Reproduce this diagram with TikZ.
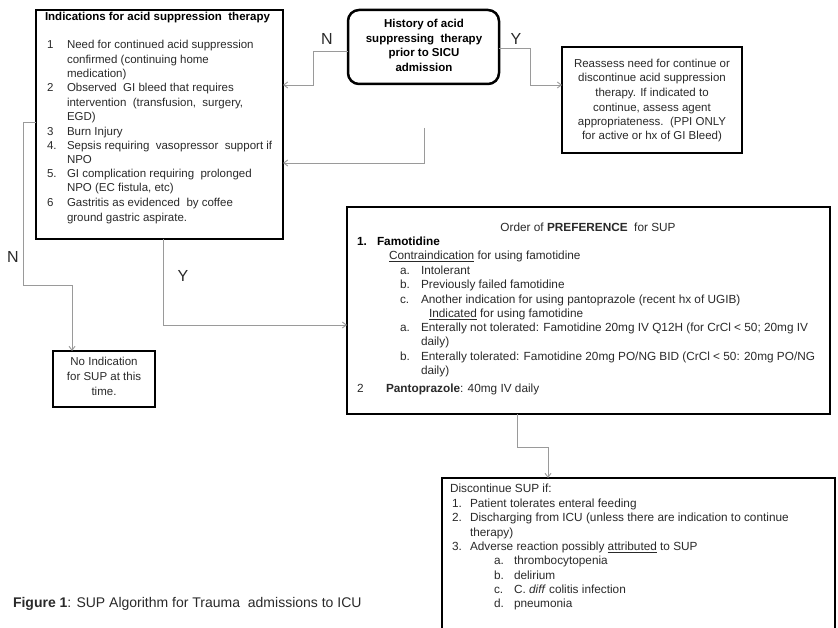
\documentclass[tikz,border=0pt]{standalone}
\usepackage{fontspec}
\setmainfont{Liberation Sans}
\usetikzlibrary{arrows.meta}
\newcounter{tln}
\newcommand\tl[4][]{\stepcounter{tln}\node[txt,anchor=mid west,#1] (t\arabic{tln}) at (#2,-#3) {#4};}
\newcommand\tc[4][]{\stepcounter{tln}\node[txt,anchor=mid,#1] (t\arabic{tln}) at (#2,-#3) {#4};}
\definecolor{txtc}{HTML}{2A2A2A}
\definecolor{connc}{HTML}{9A9A9A}
\tikzset{
  box/.style={draw=black, line width=2.5pt, outer sep=0pt, inner sep=0pt, anchor=north west},
  txt/.style={inner sep=0pt, outer sep=0pt, text=txtc, font=\fontsize{11.5}{14}\selectfont},
  small/.style={font=\fontsize{11.8}{14}\selectfont},
  bold/.style={font=\fontsize{11.5}{14}\selectfont\bfseries, text=black},
  bolds/.style={font=\fontsize{11.8}{14}\selectfont\bfseries, text=black},
  lab/.style={inner sep=0pt, text=txtc, font=\fontsize{16}{18}\selectfont},
  conn/.style={draw=connc, line width=0.9pt, -{Straight Barb[length=4pt,width=6pt]}},
}
\begin{document}
\begin{tikzpicture}[x=1pt,y=1pt]
\clip (0,0) rectangle (838,-628);
\fill[white] (0,0) rectangle (838,-628);

% boxes
\node[box, minimum width=247pt, minimum height=229pt] (ind) at (36,-10) {};
\node[box, rounded corners=11pt, minimum width=151pt, minimum height=74pt] (hist) at (348,-10) {};
\node[box, minimum width=180pt, minimum height=106pt] (reas) at (562,-47) {};
\node[box, minimum width=483pt, minimum height=207pt] (ord) at (347,-207) {};
\node[box, minimum width=102pt, minimum height=56pt] (noind) at (53,-351) {};
\node[box, minimum width=393pt, minimum height=180pt] (disc) at (442,-478) {};

% helper coordinates
\coordinate (h48) at (0,-48);
\coordinate (h51) at (0,-51);
\coordinate (h85) at (0,-85);
\coordinate (h122) at (0,-122);
\coordinate (h163) at (0,-163);
\coordinate (h325) at (0,-325);
\coordinate (v72) at (72,0);
\coordinate (v163) at (163,0);
\coordinate (v517) at (517,0);
\coordinate (v548) at (548,0);
\coordinate (fb) at (424,-128);

% connectors
\draw[conn] (hist.west |- h51) -- ++(-35,0) |- (ind.east |- h85);
\draw[conn] (hist.east |- h48) -- ++(31,0) |- (reas.west |- h85);
\draw[conn] (fb) |- (ind.east |- h163);
\draw[conn] (ind.south -| v163) |- (ord.west |- h325);
\draw[conn] (ind.west |- h122) -- ++(-13,0) |- (72,-285) -- (noind.north -| v72);
\draw[conn] (ord.south -| v517) -- ++(0,-33) -| (disc.north -| v548);

% labels
\node[lab] (lN1) at (327,-39) {N};
\node[lab] (lY1) at (516,-39) {Y};
\node[lab] (lY2) at (183,-276) {Y};
\node[lab] (lN2) at (13,-257) {N};

% indications box
\tl[bold]{45}{18}{Indications for acid suppression\ \ therapy}
\tl{47}{46}{1}\tl{67}{46}{Need for continued acid suppression}
\tl{67}{61}{confirmed (continuing home}
\tl{67}{75}{medication)}
\tl{47}{89}{2}\tl{67}{89}{Observed\ \ GI bleed that requires}
\tl{67}{104}{intervention\ \ (transfusion,\ \ surgery,}
\tl{67}{118}{EGD)}
\tl{47}{133}{3}\tl{67}{133}{Burn Injury}
\tl{47}{147}{4.}\tl{67}{147}{Sepsis requiring\ \ vasopressor\ \ support if}
\tl{67}{161}{NPO}
\tl{47}{175}{5.}\tl{67}{175}{GI complication requiring\ \ prolonged}
\tl{67}{189}{NPO (EC fistula, etc)}
\tl{47}{204}{6}\tl{67}{204}{Gastritis as evidenced\ \ by coffee}
\tl{67}{219}{ground gastric aspirate.}

% history box
\tc[bold]{424}{25}{History of acid}
\tc[bold]{424}{40}{suppressing\ \ therapy}
\tc[bold]{424}{54}{prior to SICU}
\tc[bold]{424}{69}{admission}

% reassess box
\tc{652}{65}{Reassess need for continue or}
\tc{652}{79}{discontinue acid suppression}
\tc{652}{94}{therapy. If indicated to}
\tc{652}{109}{continue, assess agent}
\tc{652}{123}{appropriateness.\ \ (PPI ONLY}
\tc{652}{137}{for active or hx of GI Bleed)}

% no indication box
\tc{104}{363}{No Indication}
\tc{104}{378}{for SUP at this}
\tc{104}{393}{time.}

% order box
\tc[small]{588}{229}{Order of \textbf{PREFERENCE}\ \ for SUP}
\tl[bolds]{357}{243}{1.}\tl[bolds]{377}{243}{Famotidine}
\tl[small]{389}{257}{\underline{Contraindication} for using famotidine}
\tl[small]{400}{272}{a.}\tl[small]{421}{272}{Intolerant}
\tl[small]{400}{286}{b.}\tl[small]{421}{286}{Previously failed famotidine}
\tl[small]{400}{301}{c.}\tl[small]{421}{301}{Another indication for using pantoprazole (recent hx of UGIB)}
\tl[small]{429}{315}{\underline{Indicated} for using famotidine}
\tl[small]{400}{329}{a.}\tl[small]{421}{329}{Enterally not tolerated: Famotidine 20mg IV Q12H (for CrCl < 50; 20mg IV}
\tl[small]{421}{343}{daily)}
\tl[small]{400}{358}{b.}\tl[small]{421}{358}{Enterally tolerated: Famotidine 20mg PO/NG BID (CrCl < 50: 20mg PO/NG}
\tl[small]{421}{372}{daily)}
\tl[small]{357}{390}{2}\tl[small]{386}{390}{\textbf{Pantoprazole}: 40mg IV daily}

% discontinue box
\tl[small]{450}{490}{Discontinue SUP if:}
\tl[small]{452}{505}{1.}\tl[small]{470}{505}{Patient tolerates enteral feeding}
\tl[small]{452}{519}{2.}\tl[small]{470}{519}{Discharging from ICU (unless there are indication to continue}
\tl[small]{470}{534}{therapy)}
\tl[small]{452}{548}{3.}\tl[small]{470}{548}{Adverse reaction possibly \underline{attributed} to SUP}
\tl[small]{494}{562}{a.}\tl[small]{514}{562}{thrombocytopenia}
\tl[small]{494}{577}{b.}\tl[small]{514}{577}{delirium}
\tl[small]{494}{591}{c.}\tl[small]{514}{591}{C. \textit{diff} colitis infection}
\tl[small]{494}{605}{d.}\tl[small]{514}{605}{pneumonia}

% caption
\tl[font=\fontsize{14}{16}\selectfont]{13}{605}{\textbf{Figure 1}: SUP Algorithm for Trauma\ \ admissions to ICU}
\end{tikzpicture}
\end{document}
